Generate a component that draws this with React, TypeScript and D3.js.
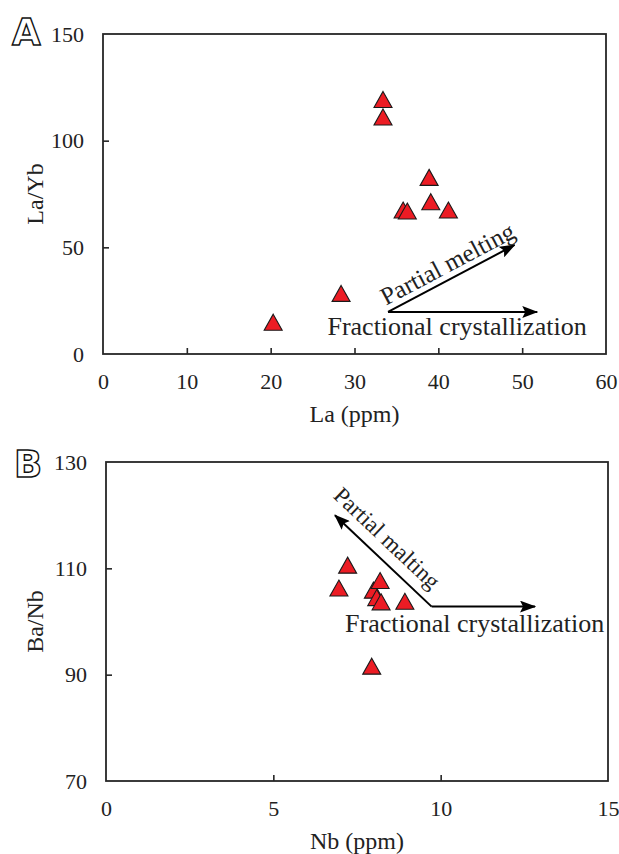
import React, { useEffect, useRef } from "react";
import * as d3 from "d3";

// Panel A: La (ppm) vs La/Yb
const laValues = [20.3, 28.4, 33.4, 33.4, 35.8, 36.3, 38.9, 39.1, 41.2];
const laYbValues = [14.9, 28.4, 119.3, 111.1, 67.5, 67.0, 82.8, 71.4, 67.5];
const aXTicks = [0, 10, 20, 30, 40, 50, 60];
const aYTicks = [0, 50, 100, 150];
// trend arrows, in data units
const aArrowStart = [34, 19.7];
const aMeltEnd = [49.1, 51.1];
const aFracEnd = [51.8, 19.7];

// Panel B: Nb (ppm) vs Ba/Nb
const nbValues = [6.96, 7.22, 7.99, 8.19, 8.09, 8.22, 8.93, 7.94];
const baNbValues = [106.3, 110.6, 105.9, 107.7, 104.5, 103.7, 103.8, 91.6];
const bXTicks = [0, 5, 10, 15];
const bYTicks = [70, 90, 110, 130];
const bArrowStart = [9.73, 102.8];
const bMeltEnd = [6.84, 120.0];
const bFracEnd = [12.82, 102.8];

const SERIF = "'Liberation Serif', 'Times New Roman', serif";
const TEXT = "#222";

// triangle marker, centred on its bounding box
const triangle = (w: number, h: number) => {
  const p = d3.path();
  p.moveTo(0, -h / 2);
  p.lineTo(w / 2, h / 2);
  p.lineTo(-w / 2, h / 2);
  p.closePath();
  return p.toString();
};

type PanelOpts = {
  box: { left: number; top: number; right: number; bottom: number };
  xDomain: [number, number];
  yDomain: [number, number];
  xTicks: number[];
  yTicks: number[];
  xs: number[];
  ys: number[];
  xTitle: string;
  yTitle: string;
  letter: string;
  letterPos: [number, number];
  start: number[];
  meltEnd: number[];
  fracEnd: number[];
  meltLabel: string;
  meltOffset: [number, number];
  meltSize: number;
  fracLabelPos: [number, number]; // relative to arrow start: dx centre, baseline y
};

const drawPanel = (svg: d3.Selection<SVGSVGElement, unknown, null, undefined>, o: PanelOpts) => {
  const { box } = o;
  const x = d3.scaleLinear().domain(o.xDomain).range([box.left, box.right]);
  const y = d3.scaleLinear().domain(o.yDomain).range([box.bottom, box.top]);
  const g = svg.append("g");

  // frame
  g.append("rect")
    .attr("x", box.left)
    .attr("y", box.top)
    .attr("width", box.right - box.left)
    .attr("height", box.bottom - box.top)
    .attr("fill", "none")
    .attr("stroke", "#262626")
    .attr("stroke-width", 1.8);

  // bottom axis, inward ticks
  const xAxis = g
    .append("g")
    .attr("transform", `translate(0,${box.bottom})`)
    .call(d3.axisBottom(x).tickValues(o.xTicks).tickSizeInner(-6).tickSizeOuter(0).tickPadding(19));
  const yAxis = g
    .append("g")
    .attr("transform", `translate(${box.left},0)`)
    .call(d3.axisLeft(y).tickValues(o.yTicks).tickSizeInner(-6).tickSizeOuter(0).tickPadding(19));

  [xAxis, yAxis].forEach((ax, i) => {
    ax.select(".domain").remove();
    const ticks = i === 0 ? o.xTicks : o.yTicks;
    ax.selectAll<SVGGElement, number>(".tick")
      .filter((d) => d === ticks[0] || d === ticks[ticks.length - 1])
      .select("line")
      .remove();
    ax.selectAll("line").attr("stroke", "#262626").attr("stroke-width", 1.6);
    ax.selectAll("text").attr("fill", TEXT).style("font-family", SERIF).style("font-size", "22px");
  });

  // axis titles
  g.append("text")
    .attr("x", (box.left + box.right) / 2)
    .attr("y", box.bottom + 68)
    .attr("text-anchor", "middle")
    .attr("fill", TEXT)
    .style("font-family", SERIF)
    .style("font-size", "24px")
    .text(o.xTitle);

  g.append("text")
    .attr("transform", `translate(43,${(box.top + box.bottom) / 2}) rotate(-90)`)
    .attr("text-anchor", "middle")
    .attr("fill", TEXT)
    .style("font-family", SERIF)
    .style("font-size", "24px")
    .text(o.yTitle);

  // panel letter, outlined
  g.append("text")
    .attr("x", o.letterPos[0])
    .attr("y", o.letterPos[1])
    .attr("fill", "#fff")
    .attr("stroke", "#111")
    .attr("stroke-width", 1.4)
    .style("font-family", "'DejaVu Sans', sans-serif")
    .style("font-weight", "bold")
    .style("font-size", "37px")
    .text(o.letter);

  // trend arrows
  const sx = x(o.start[0]);
  const sy = y(o.start[1]);
  [o.meltEnd, o.fracEnd].forEach((end) => {
    g.append("line")
      .attr("x1", sx)
      .attr("y1", sy)
      .attr("x2", x(end[0]))
      .attr("y2", y(end[1]))
      .attr("stroke", "#000")
      .attr("stroke-width", 2)
      .attr("marker-end", "url(#arrowHead)");
  });

  const mx = x(o.meltEnd[0]);
  const my = y(o.meltEnd[1]);
  const angle = (Math.atan2(my - sy, mx - sx) * 180) / Math.PI;
  const flip = Math.abs(angle) > 90 ? angle + 180 : angle;
  g.append("text")
    .attr(
      "transform",
      `translate(${(sx + mx) / 2 + o.meltOffset[0]},${(sy + my) / 2 + o.meltOffset[1]}) rotate(${flip})`
    )
    .attr("text-anchor", "middle")
    .attr("dy", "0.35em")
    .attr("fill", TEXT)
    .style("font-family", SERIF)
    .style("font-size", `${o.meltSize}px`)
    .text(o.meltLabel);

  g.append("text")
    .attr("x", sx + o.fracLabelPos[0])
    .attr("y", sy + o.fracLabelPos[1])
    .attr("text-anchor", "middle")
    .attr("fill", TEXT)
    .style("font-family", SERIF)
    .style("font-size", "26px")
    .text("Fractional crystallization");

  // samples
  g.append("g")
    .selectAll("path")
    .data(o.xs.map((v, i) => [v, o.ys[i]]))
    .join("path")
    .attr("transform", (d) => `translate(${x(d[0])},${y(d[1])})`)
    .attr("d", triangle(18, 16))
    .attr("fill", "#ec1c24")
    .attr("stroke", "#1a1a1a")
    .attr("stroke-width", 1.1)
    .attr("stroke-linejoin", "miter");
};

const App: React.FC = () => {
  const svgRef = useRef<SVGSVGElement>(null);

  useEffect(() => {
    const svg = d3.select(svgRef.current!);
    svg.selectAll("*").remove();

    svg
      .append("defs")
      .append("marker")
      .attr("id", "arrowHead")
      .attr("markerUnits", "userSpaceOnUse")
      .attr("viewBox", "0 0 16 12")
      .attr("refX", 15)
      .attr("refY", 6)
      .attr("markerWidth", 16)
      .attr("markerHeight", 12)
      .attr("orient", "auto")
      .append("path")
      .attr("d", "M0,0 L16,6 L0,12 L3,6 z")
      .attr("fill", "#000");

    drawPanel(svg, {
      box: { left: 103, top: 34, right: 606, bottom: 354 },
      xDomain: [0, 60],
      yDomain: [0, 150],
      xTicks: aXTicks,
      yTicks: aYTicks,
      xs: laValues,
      ys: laYbValues,
      xTitle: "La (ppm)",
      yTitle: "La/Yb",
      letter: "A",
      letterPos: [12, 45],
      start: aArrowStart,
      meltEnd: aMeltEnd,
      fracEnd: aFracEnd,
      meltLabel: "Partial melting",
      meltOffset: [-4, -15],
      meltSize: 25,
      fracLabelPos: [69, 23],
    });

    drawPanel(svg, {
      box: { left: 106, top: 462, right: 608, bottom: 781 },
      xDomain: [0, 15],
      yDomain: [70, 130],
      xTicks: bXTicks,
      yTicks: bYTicks,
      xs: nbValues,
      ys: baNbValues,
      xTitle: "Nb (ppm)",
      yTitle: "Ba/Nb",
      letter: "B",
      letterPos: [14, 477],
      start: bArrowStart,
      meltEnd: bMeltEnd,
      fracEnd: bFracEnd,
      meltLabel: "Partial malting",
      meltOffset: [4, -23],
      meltSize: 23,
      fracLabelPos: [43, 25],
    });
  }, []);

  return (
    <div style={{ position: "absolute", left: 0, top: 0 }}>
      <svg ref={svgRef} width={619} height={854} style={{ display: "block", background: "#fff" }} />
    </div>
  );
};

export default App;
